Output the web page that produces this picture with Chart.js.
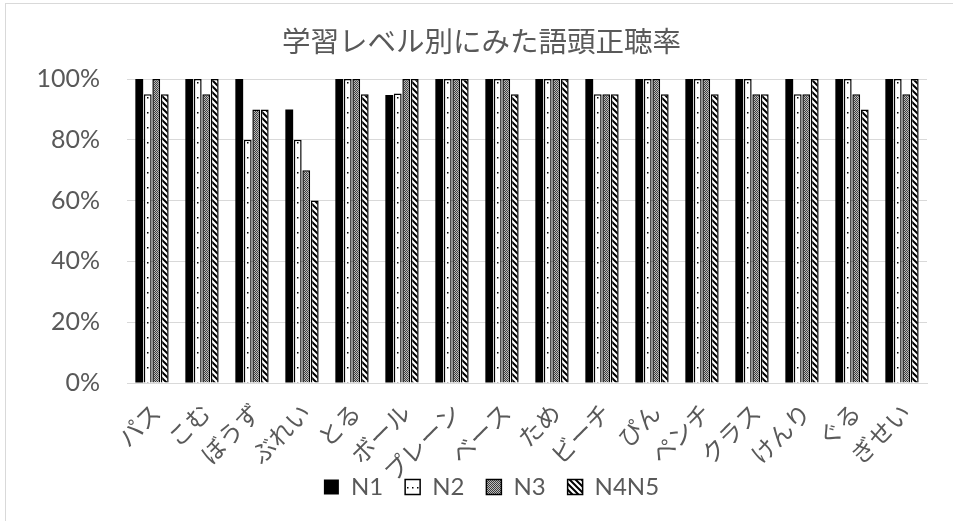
<!DOCTYPE html>
<html lang="ja">
<head>
<meta charset="utf-8">
<title>学習レベル別にみた語頭正聴率</title>
<script src="https://cdn.jsdelivr.net/npm/chart.js@4.4.1/dist/chart.umd.min.js"></script>
<style>
  html, body { margin: 0; padding: 0; background: #ffffff; }
  #wrap { position: relative; width: 953px; height: 521px; overflow: hidden; }
  #frame { position: absolute; left: 5px; top: 3px; width: 1200px; height: 1200px;
           border: 1px solid #d9d9d9; box-sizing: border-box; }
  #chart { position: absolute; left: 0; top: 0; }
</style>
</head>
<body>
<div id="wrap">
  <div id="frame"></div>
  <canvas id="chart" width="953" height="521"></canvas>
</div>
<script>
// Words (categories) and correct-hearing rates (%) by learner level
const words = ['パス', 'こむ', 'ぼうず', 'ぶれい', 'とる', 'ボール', 'プレーン', 'ベース',
               'ため', 'ビーチ', 'ぴん', 'ペンチ', 'クラス', 'けんり', 'ぐる', 'ぎせい'];
const n1   = [100, 100, 100, 90, 100, 94.7, 100, 100, 100, 100, 100, 100, 100, 100, 100, 100];
const n2   = [95, 100, 80, 80, 100, 95.2, 100, 100, 100, 95, 100, 100, 100, 95, 100, 100];
const n3   = [100, 95, 90, 70, 100, 100, 100, 100, 100, 95, 100, 100, 95, 95, 95, 95];
const n4n5 = [95, 100, 90, 60, 95, 100, 100, 95, 100, 95, 95, 95, 95, 100, 90, 100];
const seriesNames = ['N1', 'N2', 'N3', 'N4N5'];
const yTicks = [0, 20, 40, 60, 80, 100];

const TEXT = '#595959';
const JP = "'Noto Sans CJK JP', 'Noto Sans', sans-serif";
const LATIN = "Lato, 'Noto Sans CJK JP', sans-serif";

// Fill patterns for the monochrome bars
function makeTile(w, h, paint) {
  const c = document.createElement('canvas');
  c.width = w; c.height = h;
  const g = c.getContext('2d');
  paint(g, w, h);
  return document.createElement('canvas').getContext('2d').createPattern(c, 'repeat');
}
const dotted = makeTile(5, 15, (g, w, h) => {
  g.fillStyle = '#ffffff'; g.fillRect(0, 0, w, h);
  g.fillStyle = '#000000'; g.fillRect(2, 7, 1.5, 1.5);
});
const checker = makeTile(2, 2, (g) => {
  g.fillStyle = '#bdbdbd'; g.fillRect(0, 0, 2, 2);
  g.fillStyle = '#3c3c3c'; g.fillRect(0, 0, 1, 1); g.fillRect(1, 1, 1, 1);
});
const diagonal = makeTile(6, 6, (g, w, h) => {
  g.fillStyle = '#ffffff'; g.fillRect(0, 0, w, h);
  g.strokeStyle = '#000000'; g.lineWidth = 2;
  g.beginPath();
  g.moveTo(-1, -1); g.lineTo(w + 1, h + 1);
  g.moveTo(-1, h - 1); g.lineTo(1, h + 1);
  g.moveTo(w - 1, -1); g.lineTo(w + 1, 1);
  g.stroke();
});

const fills = ['#000000', dotted, checker, diagonal];
const values = [n1, n2, n3, n4n5];

const datasets = seriesNames.map((name, i) => ({
  label: name,
  data: values[i],
  backgroundColor: fills[i],
  borderColor: '#000000',
  borderWidth: i === 0 ? 0 : 1.5,
  categoryPercentage: 0.68,
  barPercentage: 0.92
}));

// Final placement tweaks: let rotated category labels use the space below the
// axis box, and set the legend row position.
const placement = {
  id: 'placement',
  afterLayout(chart) {
    const x = chart.scales.x;
    x.bottom = chart.height;
    const lg = chart.legend;
    if (lg) {
      const dx = 10, dy = 453 - lg.top;
      lg.left += dx; lg.right += dx;
      lg.top += dy; lg.bottom += dy;
    }
  }
};

new Chart(document.getElementById('chart'), {
  type: 'bar',
  data: { labels: words, datasets },
  plugins: [placement],
  options: {
    responsive: false,
    animation: false,
    devicePixelRatio: 1,
    layout: { padding: { left: 36, right: 26, top: 0, bottom: 0 } },
    plugins: {
      title: {
        display: true,
        text: '学習レベル別にみた語頭正聴率',
        color: TEXT,
        font: { family: JP, size: 28.5, weight: 'normal' },
        padding: { top: 24, bottom: 20.8 }
      },
      legend: {
        position: 'bottom',
        labels: {
          color: TEXT,
          font: { family: LATIN, size: 24 },
          boxWidth: 15,
          boxHeight: 15,
          padding: 22
        }
      },
      tooltip: { enabled: false }
    },
    scales: {
      x: {
        grid: { display: false, drawTicks: false },
        border: { display: true, color: '#d9d9d9', width: 1 },
        ticks: {
          color: TEXT,
          font: { family: JP, size: 24 },
          minRotation: 45,
          maxRotation: 45,
          autoSkip: false,
          padding: 15,
          labelOffset: 4
        },
        afterFit(scale) {
          const lh = scale.chart.legend ? scale.chart.legend.height : 56;
          scale.height = 521 - 383 - lh;
        }
      },
      y: {
        min: 0,
        max: 100,
        afterBuildTicks(scale) { scale.ticks = yTicks.map(v => ({ value: v })); },
        grid: { color: '#d9d9d9', lineWidth: 1, drawTicks: false },
        border: { display: false },
        ticks: {
          color: TEXT,
          font: { family: LATIN, size: 25 },
          padding: 27,
          callback: v => v + '%'
        },
        afterFit(scale) { scale.width = 91; }
      }
    }
  }
});
</script>
</body>
</html>
